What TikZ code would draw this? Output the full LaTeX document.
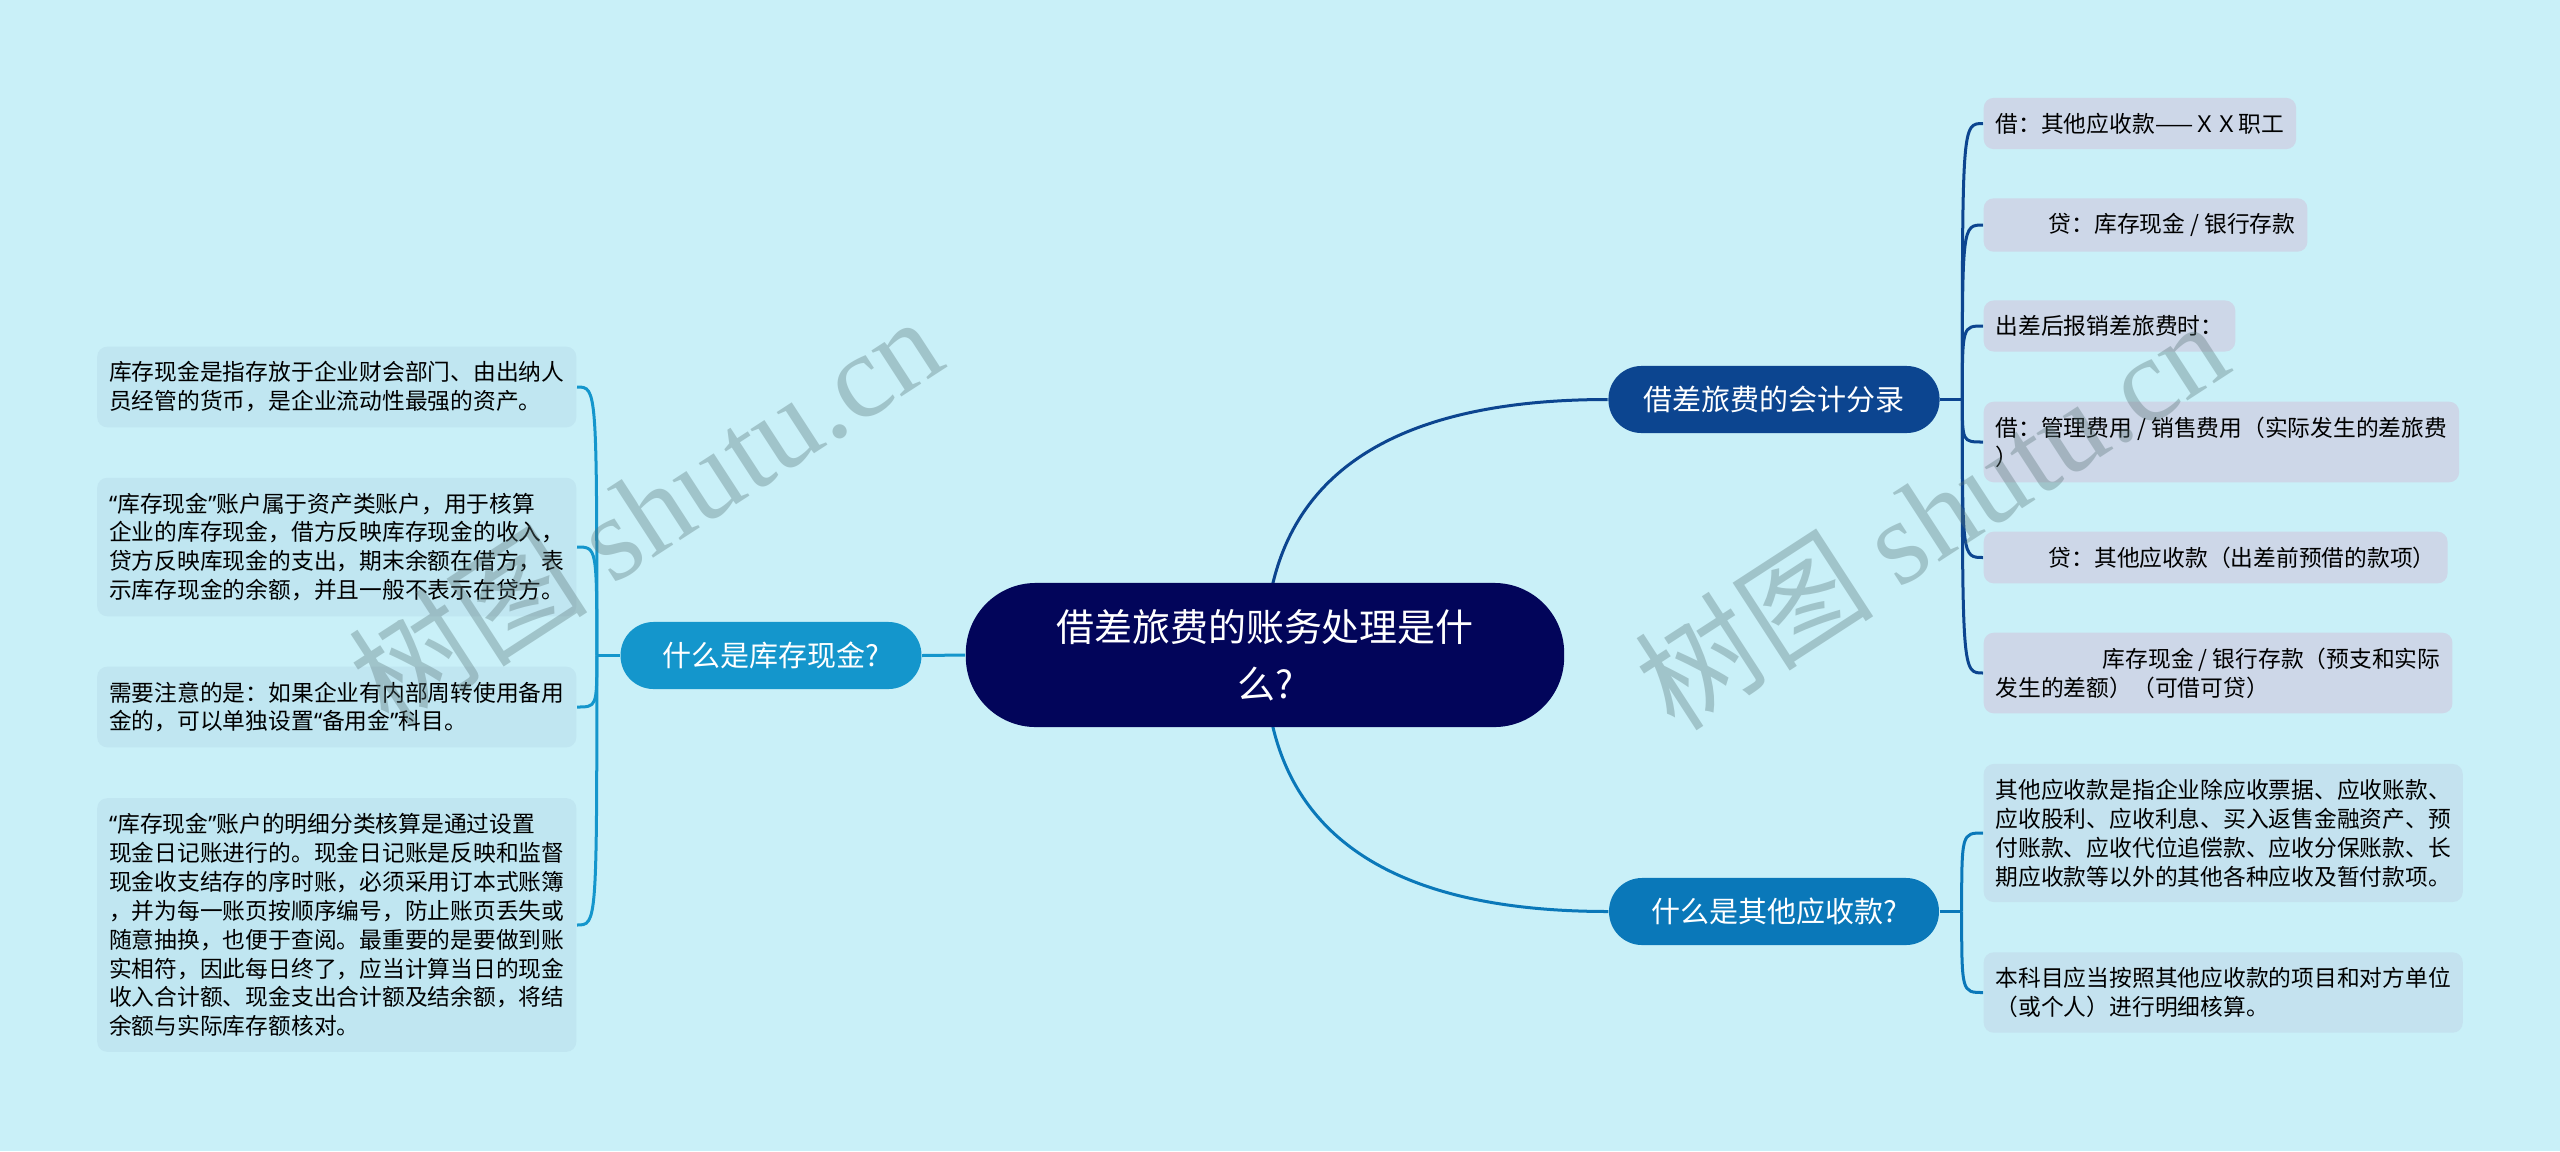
\documentclass[tikz,border=0pt]{standalone}
\usepackage{fontspec}
\setmainfont{Noto Sans CJK SC}
\newfontfamily\markfont{Liberation Serif}
\newfontfamily\quotefont{Noto Sans}
\newcommand\qopen{{\quotefont “}}
\newcommand\qclose{{\quotefont ”}}
\usetikzlibrary{positioning,calc}
\definecolor{canvas}{HTML}{C9F0F8}
\definecolor{rootblue}{HTML}{02055A}
\definecolor{entryblue}{HTML}{0C4590}
\definecolor{otherblue}{HTML}{0A78B9}
\definecolor{cashblue}{HTML}{1496CC}
\definecolor{entryleaf}{HTML}{CDD7E8}
\definecolor{otherleaf}{HTML}{C4E2EF}
\definecolor{cashleaf}{HTML}{C0E6F1}
\definecolor{markgray}{HTML}{567275}
\pgfdeclarelayer{back}
\pgfsetlayers{back,main}
\tikzset{
  rootbox/.style={fill=rootblue, text=white, rounded corners=0.7cm, align=center,
    minimum width=5.98cm, minimum height=1.44cm, font={\fontsize{10.8pt}{16.2pt}\selectfont}},
  topicbox/.style={text=white, rounded corners=0.33cm, minimum height=0.67cm,
    inner xsep=0.42cm, font={\fontsize{8.25pt}{10pt}\selectfont}},
  leafbox/.style={rounded corners=0.1cm, align=left, inner xsep=0.12cm, inner ysep=0.15cm,
    font={\fontsize{6.47pt}{8.22pt}\selectfont}},
  entrybox/.style={leafbox, fill=entryleaf, anchor=west},
  otherbox/.style={leafbox, fill=otherleaf, anchor=west},
  cashbox/.style={leafbox, fill=cashleaf, anchor=east},
  link/.style={line width=0.03cm},
  markbox/.style={text=markgray, opacity=0.35, rotate=33, font={\fontsize{34pt}{34pt}\selectfont}}
}
\begin{document}
\begin{tikzpicture}[x=0.01cm, y=-0.01cm]
  \useasboundingbox (0,0) rectangle (2560,1151);
  % centre and main topics
  \node[rootbox] (root) at (1265,655) {借差旅费的账务处理是什\\么?};
  \node[topicbox, fill=entryblue, inner xsep=0.35cm] (entry) at (1774,399.5) {借差旅费的会计分录};
  \node[topicbox, fill=otherblue] (other) at (1774,911.5) {什么是其他应收款?};
  \node[topicbox, fill=cashblue] (cash) at (771,655.5) {什么是库存现金?};
  \coordinate (entryhub) at ([xshift=0.22cm]entry.east);
  \coordinate (otherhub) at ([xshift=0.22cm]other.east);
  \coordinate (cashhub) at ([xshift=-0.23cm]cash.west);

  % accounting entries
  \node[entrybox] (e1) at (1983,123.5) {借：其他应收款——ＸＸ职工};
  \node[entrybox] (e2) at (1983,225) {\hspace*{0.53cm}贷：库存现金 / 银行存款};
  \node[entrybox] (e3) at (1983,326) {出差后报销差旅费时：};
  \node[entrybox] (e4) at (1983,442) {借：管理费用 / 销售费用（实际发生的差旅费\\）};
  \node[entrybox] (e5) at (1983,557.5) {\hspace*{0.53cm}贷：其他应收款（出差前预借的款项）};
  \node[entrybox] (e6) at (1983,673) {\hspace*{1.07cm}库存现金 / 银行存款（预支和实际\\发生的差额）（可借可贷）};

  % other receivables
  \node[otherbox] (o1) at (1983,833) {其他应收款是指企业除应收票据、应收账款、\\应收股利、应收利息、买入返售金融资产、预\\付账款、应收代位追偿款、应收分保账款、长\\期应收款等以外的其他各种应收及暂付款项。};
  \node[otherbox] (o2) at (1983,992.5) {本科目应当按照其他应收款的项目和对方单位\\（或个人）进行明细核算。};

  % cash on hand
  \node[cashbox] (c1) at (577,387) {库存现金是指存放于企业财会部门、由出纳人\\员经管的货币，是企业流动性最强的资产。};
  \node[cashbox] (c2) at (577,547) {\qopen 库存现金\qclose 账户属于资产类账户，用于核算\\企业的库存现金，借方反映库存现金的收入，\\贷方反映库现金的支出，期末余额在借方，表\\示库存现金的余额，并且一般不表示在贷方。};
  \node[cashbox] (c3) at (577,707) {需要注意的是：如果企业有内部周转使用备用\\金的，可以单独设置\qopen 备用金\qclose 科目。};
  \node[cashbox] (c4) at (577,925) {\qopen 库存现金\qclose 账户的明细分类核算是通过设置\\现金日记账进行的。现金日记账是反映和监督\\现金收支结存的序时账，必须采用订本式账簿\\，并为每一账页按顺序编号，防止账页丢失或\\随意抽换，也便于查阅。最重要的是要做到账\\实相符，因此每日终了，应当计算当日的现金\\收入合计额、现金支出合计额及结余额，将结\\余额与实际库存额核对。};

  \begin{pgfonlayer}{back}
    \fill[canvas] (0,0) rectangle (2560,1151);
    \draw[link, entryblue] (root.center)
      .. controls ($(root.center)!0.667!(root.center |- entry.west)$)
      and ($(entry.west)!0.667!(root.center |- entry.west)$) .. (entry.west);
    \draw[link, otherblue] (root.center)
      .. controls ($(root.center)!0.667!(root.center |- other.west)$)
      and ($(other.west)!0.667!(root.center |- other.west)$) .. (other.west);
    \draw[link, cashblue] (root.west) -- (cash.east);
    \draw[link, entryblue] (entry.east) -- (entryhub);
    \draw[link, otherblue] (other.east) -- (otherhub);
    \draw[link, cashblue] (cash.west) -- (cashhub);
    \foreach \leaf in {e1,e2,e3,e4,e5,e6}
      \draw[link, entryblue] (entryhub) .. controls (entryhub |- \leaf.west) .. (\leaf.west);
    \foreach \leaf in {o1,o2}
      \draw[link, otherblue] (otherhub) .. controls (otherhub |- \leaf.west) .. (\leaf.west);
    \foreach \leaf in {c1,c2,c3,c4}
      \draw[link, cashblue] (cashhub) .. controls (cashhub |- \leaf.east) .. (\leaf.east);
  \end{pgfonlayer}

  % watermark
  \node[markbox] (markL) at (645,510) {树图 {\markfont shutu.cn}};
  \node[markbox] (markR) at (1931,514) {树图 {\markfont shutu.cn}};
\end{tikzpicture}
\end{document}
